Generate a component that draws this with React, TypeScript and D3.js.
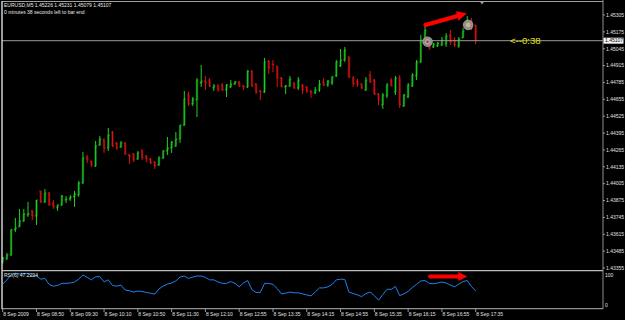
import React from "react";
import * as d3 from "d3";

const symbolTitle = "EURUSD,M5  1.45226 1.45231 1.45079 1.45107";
const timerText = "0 minutes 38 seconds left to bar end";
const rsiTitle = "RSI(6) 47.2294";
const countdown = "<--0:38";

const opens = [1.43402,1.43425,1.43456,1.43649,1.43672,1.43718,1.43764,1.43795,1.43756,1.43949,
1.43864,1.43933,1.43856,1.43818,1.43841,1.43879,1.43887,1.43903,1.43918,1.44011,
1.44211,1.44180,1.44141,1.44303,1.44342,1.44280,1.44403,1.44319,1.44288,1.44319,
1.44226,1.44234,1.44195,1.44257,1.44218,1.44195,1.44172,1.44149,1.44203,1.44257,
1.44280,1.44296,1.44349,1.44457,1.44689,1.44619,1.44650,1.44781,1.44796,1.44804,
1.44742,1.44758,1.44766,1.44727,1.44750,1.44773,1.44789,1.44758,1.44750,1.44873,
1.44773,1.44719,1.44712,1.44950,1.44927,1.44912,1.44819,1.44750,1.44758,1.44781,
1.44742,1.44766,1.44750,1.44719,1.44704,1.44727,1.44789,1.44766,1.44781,1.44835,
1.44912,1.44958,1.44981,1.44819,1.44796,1.44773,1.44727,1.44843,1.44804,1.44696,
1.44611,1.44681,1.44804,1.44712,1.44819,1.44604,1.44673,1.44758,1.44835,1.44943,
1.45112,1.45105,1.45058,1.45066,1.45074,1.45082,1.45151,1.45112,1.45066,1.45128,
1.45205,1.45266,1.45226];
const highs = [1.43440,1.43471,1.43656,1.43741,1.43810,1.43810,1.43864,1.43802,1.43879,1.43949,
1.43964,1.43941,1.43879,1.43841,1.43918,1.43910,1.43918,1.43949,1.44026,1.44249,
1.44226,1.44180,1.44334,1.44373,1.44357,1.44434,1.44411,1.44326,1.44334,1.44326,
1.44234,1.44242,1.44257,1.44272,1.44226,1.44203,1.44180,1.44218,1.44265,1.44365,
1.44334,1.44403,1.44457,1.44719,1.44712,1.44673,1.44819,1.44920,1.44835,1.44819,
1.44773,1.44773,1.44781,1.44773,1.44804,1.44796,1.44796,1.44766,1.44881,1.44881,
1.44781,1.44727,1.44974,1.44958,1.44958,1.44912,1.44827,1.44766,1.44835,1.44789,
1.44827,1.44773,1.44758,1.44727,1.44750,1.44804,1.44819,1.44804,1.44835,1.44958,
1.45043,1.45058,1.44989,1.44835,1.44812,1.44781,1.44827,1.44873,1.44812,1.44704,
1.44704,1.44781,1.44819,1.44835,1.44843,1.44696,1.44781,1.44858,1.44958,1.45151,
1.45228,1.45112,1.45089,1.45097,1.45135,1.45166,1.45189,1.45135,1.45135,1.45205,
1.45297,1.45282,1.45231];
const lows = [1.43386,1.43417,1.43448,1.43633,1.43672,1.43710,1.43749,1.43725,1.43687,1.43856,
1.43856,1.43833,1.43810,1.43795,1.43833,1.43856,1.43872,1.43826,1.43903,1.44003,
1.44164,1.44134,1.44134,1.44296,1.44242,1.44257,1.44288,1.44265,1.44280,1.44226,
1.44157,1.44172,1.44188,1.44188,1.44172,1.44157,1.44118,1.44141,1.44195,1.44226,
1.44242,1.44288,1.44319,1.44450,1.44604,1.44604,1.44519,1.44750,1.44727,1.44750,
1.44719,1.44712,1.44719,1.44673,1.44742,1.44766,1.44750,1.44727,1.44742,1.44750,
1.44696,1.44650,1.44704,1.44850,1.44866,1.44750,1.44750,1.44696,1.44750,1.44735,
1.44727,1.44696,1.44704,1.44665,1.44696,1.44712,1.44758,1.44750,1.44766,1.44827,
1.44904,1.44943,1.44819,1.44750,1.44750,1.44735,1.44719,1.44781,1.44689,1.44611,
1.44581,1.44665,1.44758,1.44689,1.44588,1.44596,1.44665,1.44750,1.44804,1.44935,
1.45105,1.45035,1.45051,1.45058,1.45066,1.45058,1.45074,1.45058,1.45051,1.45128,
1.45205,1.45189,1.45079];
const closes = [1.43433,1.43456,1.43649,1.43664,1.43718,1.43772,1.43772,1.43756,1.43879,1.43864,
1.43933,1.43841,1.43826,1.43841,1.43910,1.43887,1.43903,1.43926,1.44011,1.44203,
1.44188,1.44149,1.44296,1.44349,1.44280,1.44380,1.44296,1.44280,1.44319,1.44234,
1.44211,1.44188,1.44242,1.44203,1.44195,1.44164,1.44141,1.44203,1.44257,1.44280,
1.44326,1.44349,1.44457,1.44658,1.44619,1.44658,1.44804,1.44796,1.44781,1.44758,
1.44758,1.44727,1.44727,1.44766,1.44773,1.44789,1.44758,1.44750,1.44873,1.44758,
1.44712,1.44712,1.44943,1.44897,1.44920,1.44819,1.44750,1.44758,1.44812,1.44742,
1.44804,1.44727,1.44719,1.44704,1.44727,1.44773,1.44766,1.44796,1.44827,1.44943,
1.44958,1.45035,1.44827,1.44773,1.44773,1.44742,1.44804,1.44789,1.44696,1.44650,
1.44689,1.44766,1.44758,1.44819,1.44611,1.44689,1.44766,1.44843,1.44943,1.45112,
1.45189,1.45051,1.45082,1.45089,1.45112,1.45143,1.45097,1.45074,1.45120,1.45182,
1.45266,1.45205,1.45107];

const rsiValues = [67,79,94,98,96,96,97,89,90,81,
83,66,61,63,69,69,70,73,81,93,
86,79,88,88,73,79,63,61,64,50,
48,44,47,46,43,41,38,53,61,67,
70,76,87,90,83,87,90,90,86,79,
79,73,69,69,74,69,59,70,77,51,
43,43,69,69,66,54,39,41,44,42,
42,39,36,33,44,56,56,59,66,79,
81,80,44,40,36,31,40,44,34,21,
37,52,52,60,34,39,46,57,66,76,
77,69,68,70,73,70,64,59,67,74,
77,60,47.2294];

const priceTicks = [1.45305,1.45175,1.45045,1.44915,1.44785,1.44655,1.44525,1.44395,1.44265,1.44135,1.44005,1.43875,1.43745,1.43615,1.43485,1.43355];
const timeLabels = ["8 Sep 2009","8 Sep 08:50","8 Sep 09:30","8 Sep 10:10","8 Sep 10:50","8 Sep 11:30","8 Sep 12:10","8 Sep 12:55","8 Sep 13:35","8 Sep 14:15","8 Sep 14:55","8 Sep 15:35","8 Sep 16:15","8 Sep 16:55","8 Sep 17:35"];
const timeLabelBars = [0,8,16,24,32,40,48,56,64,72,80,88,96,104,112];
const bidPrice = 1.45107;
const rsiTicks = [100, 0];

// annotations, in data coordinates (bar index, price / rsi value)
const mainArrow = { x0: 100.1, p0: 1.45228, x1: 109.9, p1: 1.45318 };
const rsiArrow = { x0: 101.2, v0: 88.5, x1: 110, v1: 88.5 };
const markerBars = [100.6, 110.2];
const markerPrices = [1.45099, 1.45228];
const markerColors = ["#e41c1c", "#ffb020"];
const shiftBar = 113.5;

const W = 625, H = 320;
const FONT = "'Liberation Sans', Arial, sans-serif";

export default function App() {
  const n = closes.length;
  const x = d3.scaleLinear().domain([0, n - 1]).range([2.7, 475.7]);
  const y = d3.scaleLinear().domain([1.43355, 1.45305]).range([268, 15]);
  const yr = d3.scaleLinear().domain([0, 100]).range([307.5, 272.5]);

  const rsiLine = d3.line<number>().x((_, i) => x(i)).y((d) => yr(d))(rsiValues) || "";

  const arrowHead = (x0: number, y0: number, x1: number, y1: number, len: number, wid: number) => {
    const a = Math.atan2(y1 - y0, x1 - x0);
    const bx = x1 - len * Math.cos(a), by = y1 - len * Math.sin(a);
    const px = -Math.sin(a) * wid / 2, py = Math.cos(a) * wid / 2;
    return `${x1},${y1} ${bx + px},${by + py} ${bx - px},${by - py}`;
  };

  const ma = { x0: x(mainArrow.x0), y0: y(mainArrow.p0), x1: x(mainArrow.x1), y1: y(mainArrow.p1) };
  const maAng = Math.atan2(ma.y1 - ma.y0, ma.x1 - ma.x0);
  const ra = { x0: x(rsiArrow.x0), y0: yr(rsiArrow.v0), x1: x(rsiArrow.x1), y1: yr(rsiArrow.v1) };

  const sx = x(shiftBar);

  return (
    <svg width={W} height={H} style={{ position: "absolute", left: 0, top: 0, display: "block", background: "#000" }}>
      <rect x={0} y={0} width={W} height={H} fill="#000" />

      {/* candles */}
      <g>
        {closes.map((c, i) => {
          const o = opens[i], h = highs[i], l = lows[i];
          const up = c >= o;
          const bright = up ? "#1ed21e" : "#d81414";
          const dark = up ? "#0a5c12" : "#6c0808";
          const cx = x(i);
          const yt = y(Math.max(o, c)), yb = y(Math.min(o, c));
          return (
            <g key={i}>
              <rect x={cx - 1.2} y={yt} width={2.4} height={Math.max(yb - yt, 0.8)} fill={dark} />
              <line x1={cx} x2={cx} y1={y(h)} y2={y(l)} stroke={bright} strokeWidth={1} />
              <line x1={cx - 1.4} x2={cx} y1={y(o)} y2={y(o)} stroke={bright} strokeWidth={0.9} />
              <line x1={cx} x2={cx + 1.4} y1={y(c)} y2={y(c)} stroke={bright} strokeWidth={0.9} />
            </g>
          );
        })}
      </g>

      {/* bid line */}
      <line x1={2} x2={603} y1={y(bidPrice)} y2={y(bidPrice)} stroke="#9a9a9a" strokeWidth={1} />

      {/* markers */}
      {markerBars.map((b, i) => (
        <g key={i}>
          <circle cx={x(b)} cy={y(markerPrices[i])} r={4.8} fill="#8c8c8c" stroke="#a8a8a8" strokeWidth={0.8} />
          <circle cx={x(b)} cy={y(markerPrices[i])} r={2.4} fill="#b4b4b4" />
          <circle cx={x(b)} cy={y(markerPrices[i])} r={1.3} fill={markerColors[i]} />
        </g>
      ))}

      {/* main arrow */}
      <line x1={ma.x0} y1={ma.y0}
        x2={ma.x1 - 7 * Math.cos(maAng)} y2={ma.y1 - 7 * Math.sin(maAng)}
        stroke="#ff0000" strokeWidth={4.2} strokeLinecap="round" />
      <polygon points={arrowHead(ma.x0, ma.y0, ma.x1, ma.y1, 10, 10)} fill="#ff0000" />

      {/* shift marker */}
      <polygon points={`${sx - 2.6},1 ${sx + 2.6},1 ${sx},4.6`} fill="#8a9cb0" />

      {/* countdown */}
      <text x={510} y={y(bidPrice) + 3.3} fontFamily={FONT} fontSize={9.6} fill="#e6e600">{countdown}</text>

      {/* frames */}
      <line x1={2} x2={603} y1={1.5} y2={1.5} stroke="#a0a0a0" strokeWidth={1} />
      <line x1={2} x2={603} y1={270.6} y2={270.6} stroke="#bdbdbd" strokeWidth={1.4} />
      <line x1={2} x2={603} y1={308.7} y2={308.7} stroke="#b4b4b4" strokeWidth={1} />
      <line x1={2} x2={2} y1={1} y2={309} stroke="#cfcfcf" strokeWidth={1.5} />
      <line x1={603} x2={603} y1={0} y2={309} stroke="#8e8e8e" strokeWidth={1} />

      {/* header */}
      <text x={4} y={7.4} fontFamily={FONT} fontSize={5} fill="#e8e8e8">{symbolTitle}</text>
      <text x={4} y={13.6} fontFamily={FONT} fontSize={5} fill="#e8e8e8">{timerText}</text>

      {/* price axis */}
      {priceTicks.map((p) => (
        <g key={p}>
          <line x1={603} x2={605} y1={y(p)} y2={y(p)} stroke="#bbbbbb" strokeWidth={0.8} />
          <text x={606} y={y(p) + 1.8} fontFamily={FONT} fontSize={5} fill="#e0e0e0">{p.toFixed(5)}</text>
        </g>
      ))}
      <rect x={603.5} y={y(bidPrice) - 3} width={20} height={6} fill="#f4f4f4" />
      <text x={605} y={y(bidPrice) + 1.8} fontFamily={FONT} fontSize={5} fill="#000">{bidPrice.toFixed(5)}</text>

      {/* RSI */}
      <path d={rsiLine} fill="none" stroke="#1e82f0" strokeWidth={1} />
      <text x={4} y={277.3} fontFamily={FONT} fontSize={5} fill="#e0e0e0">{rsiTitle}</text>
      {rsiTicks.map((v) => (
        <text key={v} x={605} y={v === 100 ? 276.6 : 306.8} fontFamily={FONT} fontSize={5} fill="#e0e0e0">{v}</text>
      ))}
      <line x1={ra.x0} y1={ra.y0} x2={ra.x1 - 6} y2={ra.y1} stroke="#ff0000" strokeWidth={4} strokeLinecap="round" />
      <polygon points={arrowHead(ra.x0, ra.y0, ra.x1, ra.y1, 9, 9)} fill="#ff0000" />

      {/* time axis */}
      {timeLabelBars.map((b, i) => (
        <g key={b}>
          <line x1={x(b)} x2={x(b)} y1={309} y2={312} stroke="#bbbbbb" strokeWidth={0.8} />
          <text x={x(b) + 0.5} y={315.6} fontFamily={FONT} fontSize={5} fill="#e0e0e0">{timeLabels[i]}</text>
        </g>
      ))}
    </svg>
  );
}
